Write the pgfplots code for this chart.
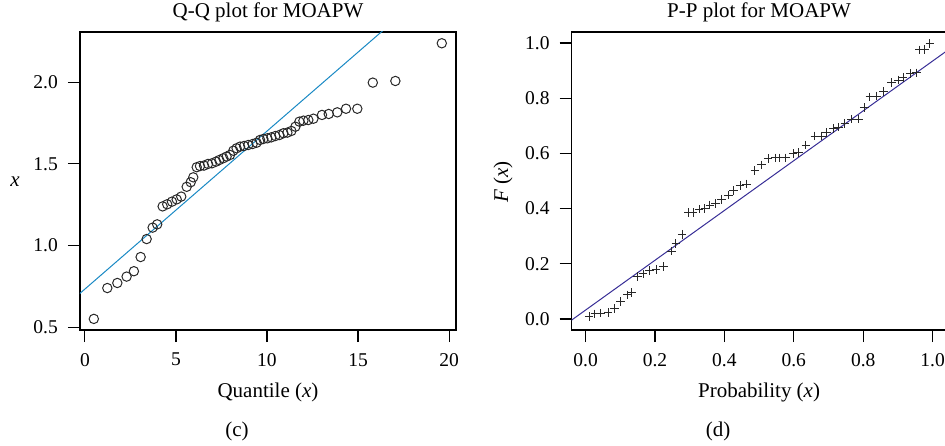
\documentclass[border=0pt]{standalone}
\usepackage{fontspec}
\setmainfont{Liberation Serif}
\usepackage{pgfplots}
\pgfplotsset{compat=1.18}
\definecolor{qqblue}{RGB}{25,137,196}
\definecolor{ppblue}{RGB}{55,45,150}
\definecolor{ptcol}{RGB}{40,40,40}
\pgfplotsset{
  mystyle/.style={
    scale only axis, height=298pt,
    axis line style={line width=1.1pt, black},
    tick align=outside, major tick length=12pt,
    every tick/.style={line width=1.1pt, black},
    xtick pos=left, ytick pos=left,
    /pgf/number format/assume math mode=true,
    tick label style={font=\fontsize{19.5}{22}\selectfont},
    yticklabel style={inner sep=0pt, xshift=-10pt},
    xticklabel style={inner sep=0pt, yshift=-11pt},
    label style={font=\fontsize{21}{24}\selectfont},
    title style={font=\fontsize{21}{24}\selectfont, at={(axis description cs:0.5,1.030)}, anchor=base},
    xlabel style={at={(axis description cs:0.5,-0.225)}, anchor=base},
  }
}
\begin{document}
\begin{tikzpicture}
\useasboundingbox (0,0) rectangle (945pt,445pt);
\begin{axis}[mystyle,
  at={(80pt,115pt)}, anchor=south west,
  width=376pt,
  xmin=-0.27, xmax=20.38, ymin=0.483, ymax=2.308,
  xtick={0,5,10,15,20},
  ytick={0.5,1.0,1.5,2.0},
  yticklabel style={/pgf/number format/fixed, /pgf/number format/fixed zerofill, /pgf/number format/precision=1},
  title={Q-Q plot for MOAPW},
  xlabel={Quantile (\textit{x})},
  ylabel={\textit{x}},
  ylabel style={at={(axis description cs:-0.173,0.497)}, anchor=center, rotate=-90},
]
\addplot[qqblue, line width=1pt] coordinates {(-1,0.637) (21,2.765)};
\addplot[only marks, mark=o, mark size=4.7pt, ptcol, mark options={line width=1pt}] coordinates {
(0.49,0.551) (1.23,0.740) (1.78,0.771) (2.29,0.810) (2.69,0.843) (3.06,0.930)
(3.39,1.040) (3.72,1.110) (3.97,1.130) (4.27,1.240) (4.52,1.253) (4.78,1.269)
(5.04,1.283) (5.29,1.300) (5.59,1.360) (5.81,1.388) (5.95,1.418) (6.14,1.480)
(6.32,1.487) (6.54,1.490) (6.76,1.500) (6.98,1.504) (7.20,1.514) (7.38,1.524)
(7.60,1.535) (7.78,1.545) (7.97,1.555) (8.15,1.581) (8.33,1.596) (8.52,1.606)
(8.74,1.610) (8.97,1.616) (9.21,1.622) (9.43,1.630) (9.62,1.647) (9.80,1.653)
(10.02,1.657) (10.24,1.663) (10.46,1.671) (10.68,1.677) (10.90,1.688) (11.12,1.692)
(11.34,1.702) (11.56,1.728) (11.78,1.759) (12.00,1.765) (12.27,1.769) (12.55,1.777)
(13.02,1.800) (13.39,1.806) (13.86,1.816) (14.34,1.838) (14.96,1.838) (15.81,1.998)
(17.05,2.008) (19.60,2.239)
};
\end{axis}
\begin{axis}[mystyle,
  at={(571.7pt,115pt)}, anchor=south west,
  width=374.8pt,
  xmin=-0.04, xmax=1.04, ymin=-0.04, ymax=1.04,
  xtick={0,0.2,0.4,0.6,0.8,1.0},
  ytick={0,0.2,0.4,0.6,0.8,1.0},
  xticklabel style={/pgf/number format/fixed, /pgf/number format/fixed zerofill, /pgf/number format/precision=1},
  yticklabel style={/pgf/number format/fixed, /pgf/number format/fixed zerofill, /pgf/number format/precision=1},
  title={P-P plot for MOAPW},
  xlabel={Probability (\textit{x})},
  ylabel={\textit{F} (\textit{x})},
  ylabel style={at={(axis description cs:-0.183,0.497)}, anchor=center},
]
\addplot[ppblue, line width=1pt] coordinates {(-0.1,-0.058) (1.1,1.025)};
\addplot[only marks, mark=+, mark size=4.3pt, ptcol, mark options={line width=1pt}] coordinates {
(0.010,0.008) (0.027,0.018) (0.043,0.021) (0.065,0.024) (0.084,0.037) (0.101,0.063)
(0.120,0.087) (0.133,0.095) (0.149,0.153) (0.166,0.163) (0.185,0.175) (0.203,0.180)
(0.224,0.190) (0.248,0.246) (0.260,0.274) (0.278,0.307) (0.296,0.385) (0.310,0.385)
(0.327,0.398) (0.344,0.401) (0.358,0.413) (0.375,0.419) (0.392,0.434) (0.411,0.449)
(0.427,0.465) (0.445,0.483) (0.464,0.489) (0.488,0.537) (0.507,0.558) (0.526,0.582)
(0.546,0.584) (0.560,0.584) (0.577,0.584) (0.598,0.600) (0.613,0.603) (0.635,0.630)
(0.661,0.663) (0.680,0.663) (0.695,0.675) (0.714,0.691) (0.728,0.695) (0.747,0.709)
(0.767,0.724) (0.786,0.724) (0.803,0.767) (0.819,0.805) (0.838,0.808) (0.858,0.824)
(0.882,0.856) (0.901,0.866) (0.915,0.876) (0.935,0.890) (0.954,0.892) (0.963,0.975)
(0.978,0.977) (0.992,0.999)
};
\end{axis}
\node[font=\fontsize{21}{24}\selectfont, anchor=center] at (237pt,14pt) {(c)};
\node[font=\fontsize{21}{24}\selectfont, anchor=center] at (718pt,14pt) {(d)};
\end{tikzpicture}
\end{document}
